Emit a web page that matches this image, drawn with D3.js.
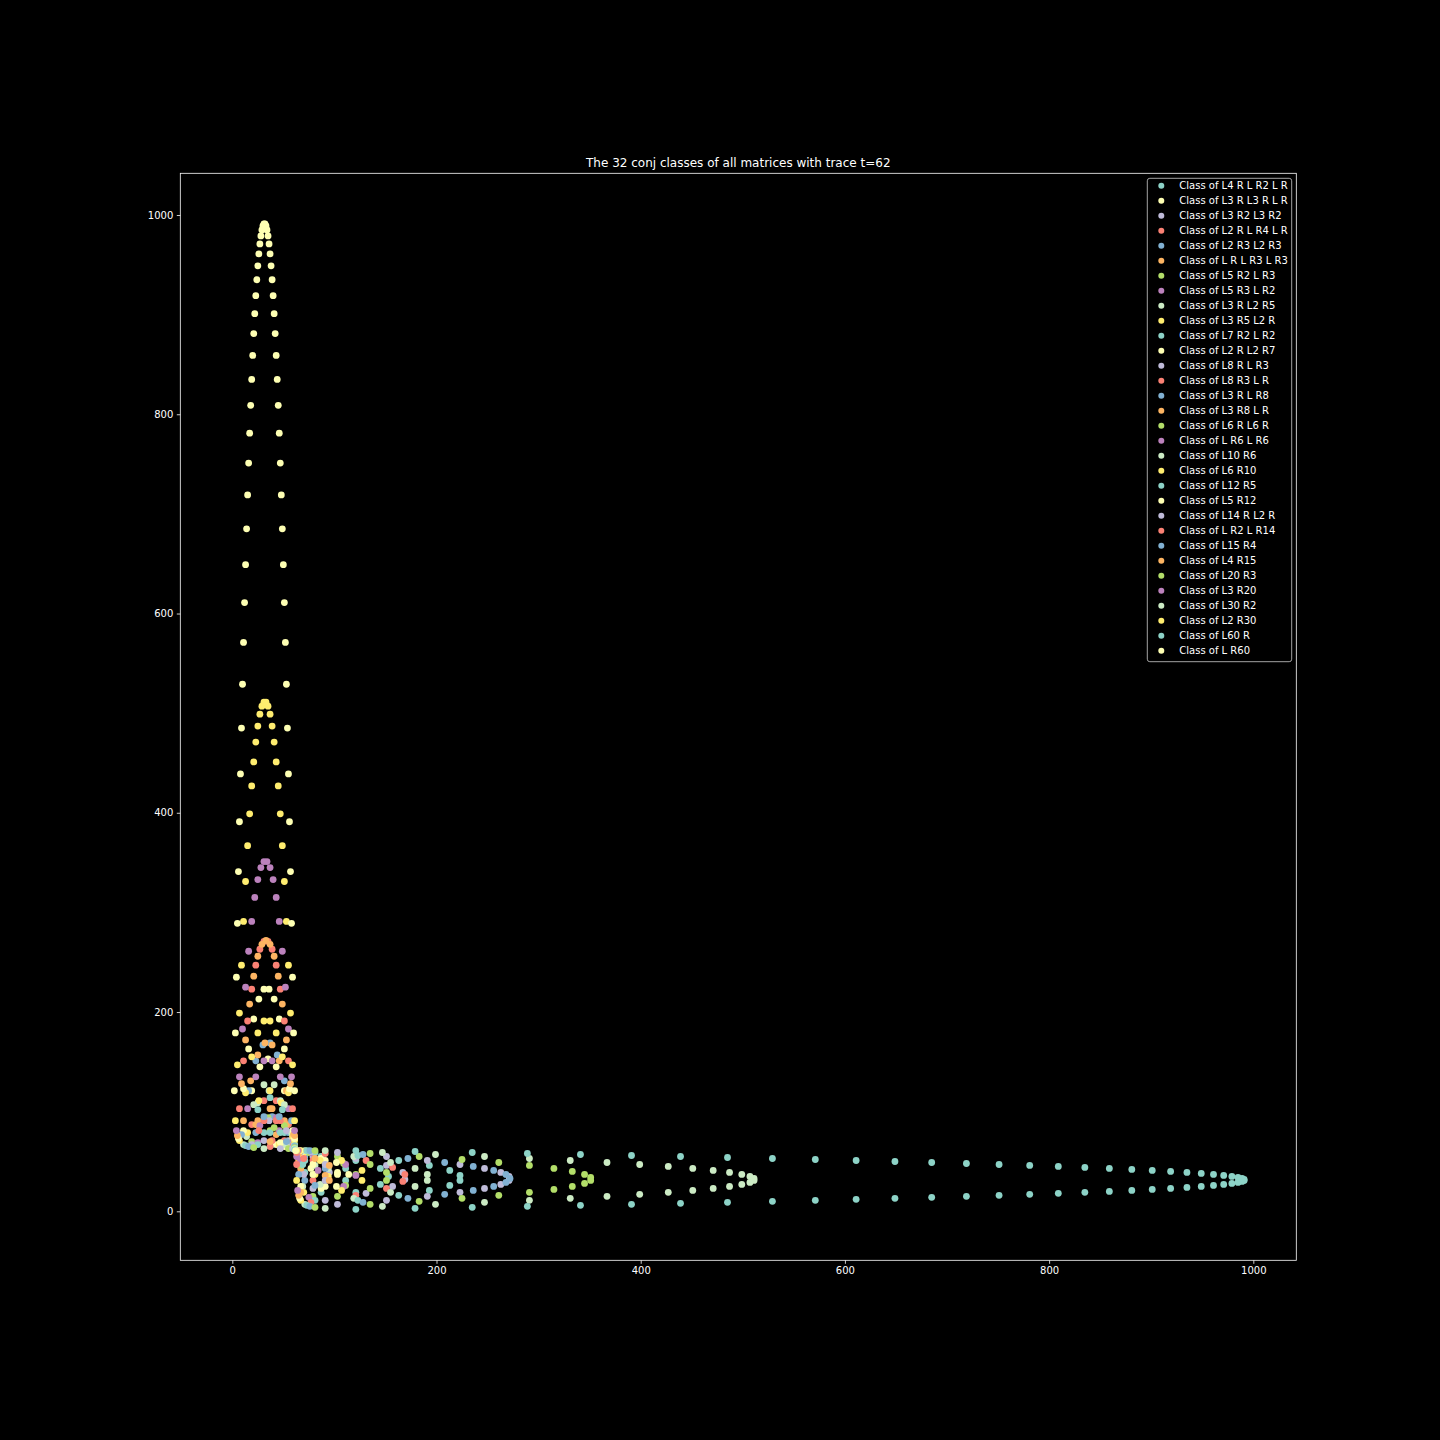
<!DOCTYPE html>
<html><head><meta charset="utf-8">
<script src="https://cdn.jsdelivr.net/npm/d3@7"></script>
<style>html,body{margin:0;padding:0;background:#000;} svg{display:block;} text{font-family:"DejaVu Sans",sans-serif;}</style>
</head><body>
<svg id="chart" width="1440" height="1440"></svg>
<script>
const titleText = "The 32 conj classes of all matrices with trace t=62";
const classNames = [
"Class of L4 R L R2 L R","Class of L3 R L3 R L R","Class of L3 R2 L3 R2","Class of L2 R L R4 L R",
"Class of L2 R3 L2 R3","Class of L R L R3 L R3","Class of L5 R2 L R3","Class of L5 R3 L R2",
"Class of L3 R L2 R5","Class of L3 R5 L2 R","Class of L7 R2 L R2","Class of L2 R L2 R7",
"Class of L8 R L R3","Class of L8 R3 L R","Class of L3 R L R8","Class of L3 R8 L R",
"Class of L6 R L6 R","Class of L R6 L R6","Class of L10 R6","Class of L6 R10",
"Class of L12 R5","Class of L5 R12","Class of L14 R L2 R","Class of L R2 L R14",
"Class of L15 R4","Class of L4 R15","Class of L20 R3","Class of L3 R20",
"Class of L30 R2","Class of L2 R30","Class of L60 R","Class of L R60"];
const palette = ["#8dd3c7","#feffb3","#bfbbd9","#fa8174","#81b1d2","#fdb462","#b3de69","#bc82bd","#ccebc4","#ffed6f"];
const xTicks = [0,200,400,600,800,1000];
const yTicks = [0,200,400,600,800,1000];

const c00 = [[39,67],[87,55],[111,43],[111,31],[87,19],[55,67],[71,39],[51,79],[31,79],[71,51]];
const c01 = [[43,67],[87,53],[103,39],[91,25],[51,65],[91,51],[103,37],[87,23],[53,67],[77,43]];
const c02 = [[31,71],[79,55],[95,39],[79,23],[55,71]];
const c03 = [[39,71],[79,51],[79,31],[51,71],[67,39],[55,87],[43,111],[31,111],[19,87],[67,55]];
const c04 = [[23,79],[71,55],[71,31],[55,79],[39,95]];
const c05 = [[23,87],[67,53],[43,77],[67,43],[53,87],[39,103],[25,91],[65,51],[51,91],[37,103]];
const c06 = [[19,70],[75,59],[109,48],[121,37],[111,26],[79,15],[58,69],[37,81],[67,46],[51,86],[35,94]];
const c07 = [[25,69],[79,58],[111,47],[121,36],[109,25],[75,14],[59,70],[43,94],[27,86],[67,51],[46,81]];
const c08 = [[69,25],[58,79],[47,111],[36,121],[25,109],[14,75],[70,59],[94,43],[86,27],[51,67],[81,46]];
const c09 = [[70,19],[59,75],[48,109],[37,121],[26,111],[15,79],[69,58],[81,37],[46,67],[86,51],[94,35]];
const c10 = [[25,67],[81,59],[121,51],[145,43],[153,35],[145,27],[121,19],[81,11],[59,67],[37,79],[69,47],[47,79]];
const c11 = [[67,25],[59,81],[51,121],[43,145],[35,153],[27,145],[19,121],[11,81],[67,59],[79,37],[47,69],[79,47]];
const c12 = [[19,67],[77,60],[121,53],[151,46],[167,39],[169,32],[157,25],[131,18],[91,11],[58,65],[70,37],[53,81],[36,91]];
const c13 = [[37,65],[91,58],[131,51],[157,44],[169,37],[167,30],[151,23],[121,16],[77,9],[60,67],[43,91],[26,81],[70,53]];
const c14 = [[65,37],[58,91],[51,131],[44,157],[37,169],[30,167],[23,151],[16,121],[9,77],[67,60],[91,43],[81,26],[53,70]];
const c15 = [[67,19],[60,77],[53,121],[46,151],[39,167],[32,169],[25,157],[18,131],[11,91],[65,58],[37,70],[81,53],[91,36]];
const c16 = [[55,63],[103,55],[135,47],[151,39],[151,31],[135,23],[103,15]];
const c17 = [[63,55],[55,103],[47,135],[39,151],[31,151],[23,135],[15,103]];
const c18 = [[119,13],[155,19],[179,25],[191,31],[191,37],[179,43],[155,49],[119,55],[71,61],[11,67],[21,107],[31,127],[41,127],[51,107],[61,67],[71,7]];
const c19 = [[13,119],[19,155],[25,179],[31,191],[37,191],[43,179],[49,155],[55,119],[61,71],[67,11],[107,21],[127,31],[127,41],[107,51],[67,61],[7,71]];
const c20 = [[123,11],[163,16],[193,21],[213,26],[223,31],[223,36],[213,41],[193,46],[163,51],[123,56],[73,61],[13,66],[25,102],[37,114],[49,102],[61,66],[73,6]];
const c21 = [[11,123],[16,163],[21,193],[26,213],[31,223],[36,223],[41,213],[46,193],[51,163],[56,123],[61,73],[66,13],[102,25],[114,37],[102,49],[66,61],[6,73]];
const c22 = [[47,63],[103,59],[151,55],[191,51],[223,47],[247,43],[263,39],[271,35],[271,31],[263,27],[247,23],[223,19],[191,15],[151,11],[103,7],[59,63],[91,47],[91,31]];
const c23 = [[63,47],[59,103],[55,151],[51,191],[47,223],[43,247],[39,263],[35,271],[31,271],[27,263],[23,247],[19,223],[15,191],[11,151],[7,103],[63,59],[47,91],[31,91]];
const c24 = [[128,9],[172,13],[208,17],[236,21],[256,25],[268,29],[272,33],[268,37],[256,41],[236,45],[208,49],[172,53],[128,57],[76,61],[16,65],[31,95],[46,95],[61,65],[76,5]];
const c25 = [[9,128],[13,172],[17,208],[21,236],[25,256],[29,268],[33,272],[37,268],[41,256],[45,236],[49,208],[53,172],[57,128],[61,76],[65,16],[95,31],[95,46],[65,61],[5,76]];
const c26 = [[135,7],[183,10],[225,13],[261,16],[291,19],[315,22],[333,25],[345,28],[351,31],[351,34],[345,37],[333,40],[315,43],[291,46],[261,49],[225,52],[183,55],[135,58],[81,61],[21,64],[41,84],[61,64],[81,4]];
const c27 = [[7,135],[10,183],[13,225],[16,261],[19,291],[22,315],[25,333],[28,345],[31,351],[34,351],[37,345],[40,333],[43,315],[46,291],[49,261],[52,225],[55,183],[58,135],[61,81],[64,21],[84,41],[64,61],[4,81]];
const c28 = [[147,5],[199,7],[247,9],[291,11],[331,13],[367,15],[399,17],[427,19],[451,21],[471,23],[487,25],[499,27],[507,29],[511,31],[511,33],[507,35],[499,37],[487,39],[471,41],[451,43],[427,45],[399,47],[367,49],[331,51],[291,53],[247,55],[199,57],[147,59],[91,61],[31,63],[61,63],[91,3]];
const c29 = [[5,147],[7,199],[9,247],[11,291],[13,331],[15,367],[17,399],[19,427],[21,451],[23,471],[25,487],[27,499],[29,507],[31,511],[33,511],[35,507],[37,499],[39,487],[41,471],[43,451],[45,427],[47,399],[49,367],[51,331],[53,291],[55,247],[57,199],[59,147],[61,91],[63,31],[63,61],[3,91]];
const c30 = [[179,3],[235,4],[289,5],[341,6],[391,7],[439,8],[485,9],[529,10],[571,11],[611,12],[649,13],[685,14],[719,15],[751,16],[781,17],[809,18],[835,19],[859,20],[881,21],[901,22],[919,23],[935,24],[949,25],[961,26],[971,27],[979,28],[985,29],[989,30],[991,31],[991,32],[989,33],[985,34],[979,35],[971,36],[961,37],[949,38],[935,39],[919,40],[901,41],[881,42],[859,43],[835,44],[809,45],[781,46],[751,47],[719,48],[685,49],[649,50],[611,51],[571,52],[529,53],[485,54],[439,55],[391,56],[341,57],[289,58],[235,59],[179,60],[121,61],[61,62],[121,2]];
const c31 = [[3,179],[4,235],[5,289],[6,341],[7,391],[8,439],[9,485],[10,529],[11,571],[12,611],[13,649],[14,685],[15,719],[16,751],[17,781],[18,809],[19,835],[20,859],[21,881],[22,901],[23,919],[24,935],[25,949],[26,961],[27,971],[28,979],[29,985],[30,989],[31,991],[32,991],[33,989],[34,985],[35,979],[36,971],[37,961],[38,949],[39,935],[40,919],[41,901],[42,881],[43,859],[44,835],[45,809],[46,781],[47,751],[48,719],[49,685],[50,649],[51,611],[52,571],[53,529],[54,485],[55,439],[56,391],[57,341],[58,289],[59,235],[60,179],[61,121],[62,61],[2,121]];
const classPoints = [c00,c01,c02,c03,c04,c05,c06,c07,c08,c09,c10,c11,c12,c13,c14,c15,c16,c17,c18,c19,c20,c21,c22,c23,c24,c25,c26,c27,c28,c29,c30,c31];

const svg = d3.select("#chart");
svg.append("rect").attr("width",1440).attr("height",1440).attr("fill","#000");
const L = 180.3, R = 1296.3, T = 173.3, B = 1260.3;
const x = d3.scaleLinear().domain([-50.93, 1042.1]).range([L, R]);
const y = d3.scaleLinear().domain([-49.18, 1041.85]).range([B, T]);

// points
const pts = svg.append("g");
classPoints.forEach((arr, i) => {
  pts.append("g").selectAll("circle").data(arr).join("circle")
    .attr("cx", d => x(d[0])).attr("cy", d => y(d[1]))
    .attr("r", 3.4).attr("fill", palette[i % palette.length]);
});

// axes
const gx = svg.append("g").attr("transform", `translate(0,${B})`)
  .call(d3.axisBottom(x).tickValues(xTicks).tickSize(3.5).tickPadding(3.5).tickFormat(d3.format("d")));
const gy = svg.append("g").attr("transform", `translate(${L},0)`)
  .call(d3.axisLeft(y).tickValues(yTicks).tickSize(3.5).tickPadding(3.5).tickFormat(d3.format("d")));
[gx, gy].forEach(g => {
  g.select(".domain").remove();
  g.attr("font-family", "DejaVu Sans").attr("font-size", 10);
  g.selectAll("line").attr("stroke", "#fff").attr("stroke-width", 0.8);
  g.selectAll("text").attr("fill", "#fff");
});

// frame
svg.append("rect").attr("x", L).attr("y", T).attr("width", R - L).attr("height", B - T)
  .attr("fill", "none").attr("stroke", "#fff").attr("stroke-width", 0.8);

// title
svg.append("text").attr("x", (L + R) / 2).attr("y", T - 6).attr("text-anchor", "middle")
  .attr("fill", "#fff").attr("font-size", 12).text(titleText);

// legend
const lg = svg.append("g");
lg.append("rect").attr("x", 1147.3).attr("y", 178.3).attr("width", 144.4).attr("height", 483.4)
  .attr("rx", 2.5).attr("fill", "#000").attr("fill-opacity", 0.8)
  .attr("stroke", "#cccccc").attr("stroke-opacity", 0.8).attr("stroke-width", 1);
const items = lg.selectAll("g.item").data(classNames).join("g").attr("class", "item")
  .attr("transform", (d, i) => `translate(0,${185.7 + i * 15})`);
items.append("circle").attr("cx", 1161.3).attr("cy", 0).attr("r", 3)
  .attr("fill", (d, i) => palette[i % palette.length]);
items.append("text").attr("x", 1179.3).attr("y", 3.6).attr("fill", "#fff")
  .attr("font-size", 10).text(d => d);
</script>
</body></html>
